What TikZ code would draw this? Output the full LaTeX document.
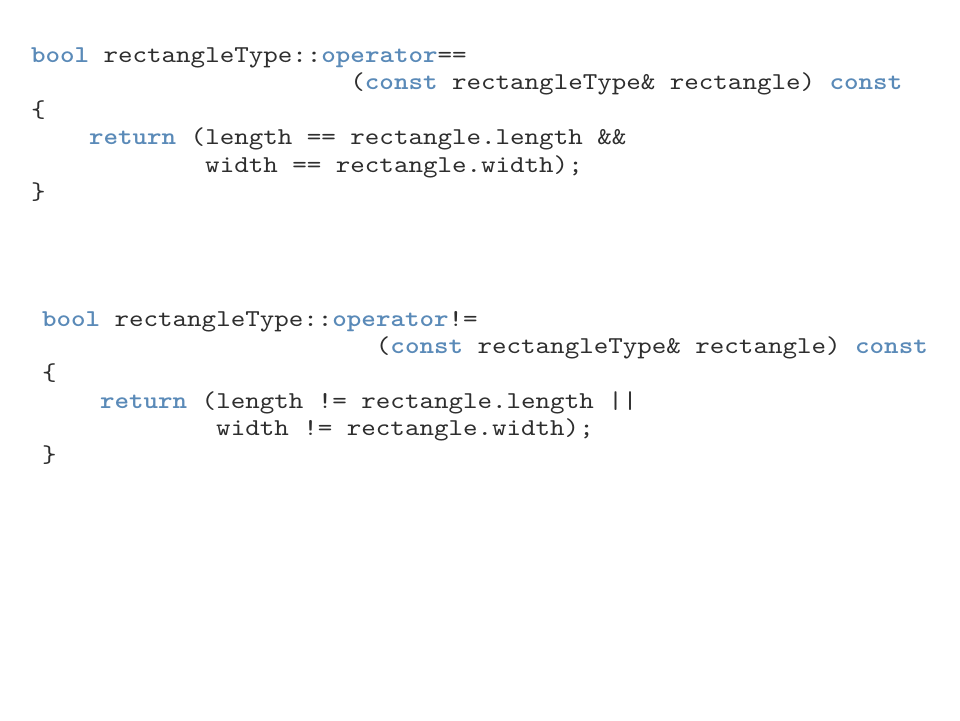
\documentclass[tikz,border=0pt]{standalone}
\usepackage{fontspec}
\setmonofont{lmmono10-regular.otf}[BoldFont=lmmonolt10-bold.otf, FakeStretch=1.143]
\definecolor{kwblue}{HTML}{5A8AB8}
\definecolor{codegray}{HTML}{2E2E2E}
\newcommand{\kw}[1]{{\bfseries\color{kwblue}#1}}
\tikzset{
  codeline/.style={anchor=base west, inner sep=0pt, outer sep=0pt,
    font=\ttfamily\fontsize{24.2}{27.5}\selectfont, text=codegray}
}
\begin{document}
\begin{tikzpicture}[x=1pt,y=-1pt]
\useasboundingbox[fill=white] (0,0) rectangle (960,720);
% block 1: operator==
\def\cw{14.52}
\node[codeline] (a1) at (31,62) {\kw{bool} rectangleType::\kw{operator}==};
\node[codeline] (a2) at ({31+22*\cw},89.5) {(\kw{const} rectangleType\& rectangle) \kw{const}};
\node[codeline] (a3) at (31,117) {\{};
\node[codeline] (a4) at ({31+4*\cw},144.5) {\kw{return} (length == rectangle.length \&\&};
\node[codeline] (a5) at ({31+12*\cw},172) {width == rectangle.width);};
\node[codeline] (a6) at (31,199.5) {\}};
% block 2: operator!=
\node[codeline] (b1) at (42,326) {\kw{bool} rectangleType::\kw{operator}!=};
\node[codeline] (b2) at ({42+23*\cw},353.5) {(\kw{const} rectangleType\& rectangle) \kw{const}};
\node[codeline] (b3) at (42,380.5) {\{};
\node[codeline] (b4) at ({42+4*\cw},408) {\kw{return} (length != rectangle.length ||};
\node[codeline] (b5) at ({42+12*\cw},435) {width != rectangle.width);};
\node[codeline] (b6) at (42,462) {\}};
\end{tikzpicture}
\end{document}
